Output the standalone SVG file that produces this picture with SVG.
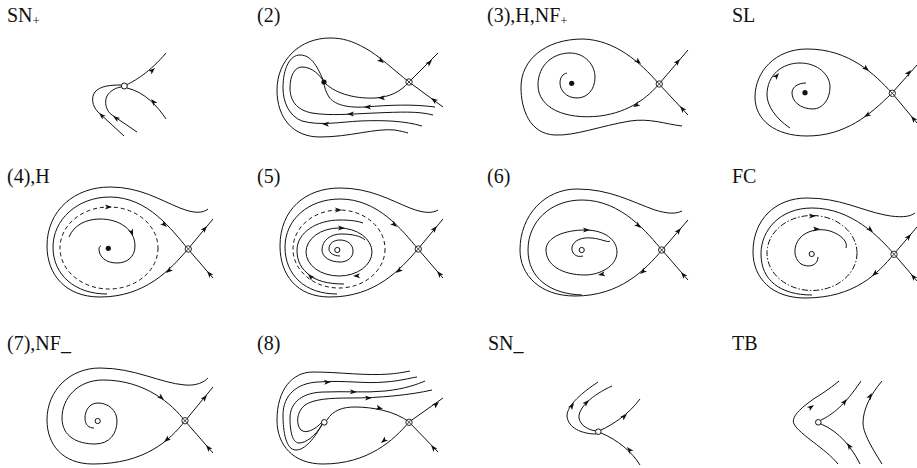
<svg xmlns="http://www.w3.org/2000/svg" xmlns:xlink="http://www.w3.org/1999/xlink" width="917" height="468" viewBox="0 0 917 468">
<style>
.c{fill:none;stroke:#111;stroke-width:1}
.d{fill:none;stroke:#111;stroke-width:1;stroke-dasharray:4,3}
.dd{fill:none;stroke:#111;stroke-width:1;stroke-dasharray:6,2,1.5,2}
.o{fill:#fff;stroke:#111;stroke-width:1}
.f{fill:#111}
text{font-family:'Liberation Serif','DejaVu Serif',serif;font-size:20px;fill:#111}
</style>
<defs>
<path id="ah" d="M0,0 L-7,-2.5 L-5.3,0 L-7,2.5 Z" fill="#111"/>
<g id="sd"><circle r="3.2" fill="#fff" stroke="#111" stroke-width="0.9"/><path d="M-2.2,-2.2 L2.2,2.2 M-2.2,2.2 L2.2,-2.2" stroke="#111" stroke-width="0.8"/></g>
</defs>
<rect width="917" height="468" fill="#fff"/>

<g id="labels">
<text x="7" y="22">SN<tspan font-size="13" dy="3">+</tspan></text>
<text x="257" y="22">(2)</text>
<text x="487" y="22">(3),H,NF<tspan font-size="13" dy="3">+</tspan></text>
<text x="732" y="22">SL</text>
<text x="7" y="183">(4),H</text>
<text x="257" y="183">(5)</text>
<text x="487" y="183">(6)</text>
<text x="732" y="183">FC</text>
<text x="7" y="350">(7),NF_</text>
<text x="257" y="350">(8)</text>
<text x="488" y="350">SN_</text>
<text x="732" y="350">TB</text>
</g>

<!-- Panel SN+ -->
<g id="p1">
<path class="c" d="M124,86 C135,81 150,72 166,53"/>
<path class="c" d="M166,119 C158,107 145,92 127,88"/>
<path class="c" d="M124,136 L98,112 C92,106 91,97 95,92 C100,86 110,85 121,85"/>
<path class="c" d="M137,132 L112,115 C106,111 104,102 107,96 C110,91 115,88 121,87"/>
<use href="#ah" transform="translate(155,68) rotate(-42)"/>
<use href="#ah" transform="translate(151,99) rotate(-131)"/>
<use href="#ah" transform="translate(99,113) rotate(-137)"/>
<use href="#ah" transform="translate(113,116) rotate(-145)"/>
<g id="p1n"><circle class="o" cx="124.3" cy="86" r="3"/></g>
</g>

<!-- Panel (2) -->
<g id="p2">
<path class="c" d="M443,107 L409,82 C395,71 378,55 365,48 C352,41 343,38 330,38 C300,38 277,60 277,90 C277,118 293,137 320,137 C350,137 375,128 395,130 C400,131 405,132 408,133"/>
<path class="c" d="M438,53 L409,82 C400,92 390,97 375,98 C352,99 333,92 324,82"/>
<path class="c" d="M435,107 C412,104 390,105 365,107 C345,108 334,104 329,97 C326,92 324,87 324,82"/>
<path class="c" d="M433,115 C418,111 400,112 375,113 C350,114 330,116 312,113 C296,110 290,100 290,88 C290,75 295,67 302,67 C312,67 320,75 324,82"/>
<path class="c" d="M422,126 C405,121 385,120 360,121 C340,122 320,126 302,121 C289,116 283,102 283,88 C283,68 290,55 300,55 C312,55 318,68 324,82"/>
<use href="#ah" transform="translate(384,63) rotate(38)"/>
<use href="#ah" transform="translate(431,98) rotate(-144)"/>
<use href="#ah" transform="translate(432,60) rotate(-45)"/>
<use href="#ah" transform="translate(378,98) rotate(178)"/>
<use href="#ah" transform="translate(364,107) rotate(180)"/>
<use href="#ah" transform="translate(347,114) rotate(180)"/>
<use href="#ah" transform="translate(322,124) rotate(183)"/>
<g id="p2n"><circle class="f" cx="324" cy="82" r="2.6"/></g>
<use href="#sd" x="409" y="82"/>
</g>

<!-- Panel (3) -->
<g id="p3">
<path class="c" d="M682,126 C665,124 650,118 630,121 C600,126 575,136 555,135 C530,134 521,110 521,87 C521,60 545,39 583,39 C615,40 640,62 659,84 L688,115"/>
<path class="c" d="M688,50 L659,84 C648,97 630,112 600,116 C565,120 538,108 538,85 C538,65 553,53 570,53 C585,53 595,65 595,77 C595,90 587,98 577,98 C566,98 560,90 560,83 C560,77 563,74 567,73"/>
<use href="#ah" transform="translate(641,64) rotate(42)"/>
<use href="#ah" transform="translate(633,107) rotate(150)"/>
<use href="#ah" transform="translate(680,59) rotate(-50)"/>
<use href="#ah" transform="translate(680,106) rotate(-130)"/>
<g id="p3n"><circle class="f" cx="571.7" cy="83.3" r="2.6"/></g>
<use href="#sd" x="659.3" y="84"/>
</g>

<!-- Panel SL -->
<g id="p4">
<path class="c" d="M892,93 C875,75 850,49 807,49 C775,49 755,72 755,97 C755,120 775,136 807,136 C845,136 870,115 892,93"/>
<path class="c" d="M917,65 L892,93 L917,123"/>
<path class="c" d="M790,128 C775,118 767,105 767,95 C767,75 782,63 800,63 C818,63 830,75 830,87 C830,100 822,109 813,109 C800,109 792,101 792,93 C792,87 798,83 806,83"/>
<use href="#ah" transform="translate(869,71) rotate(40)"/>
<use href="#ah" transform="translate(864,117) rotate(148)"/>
<use href="#ah" transform="translate(911,70) rotate(-50)"/>
<use href="#ah" transform="translate(911,116) rotate(-130)"/>
<use href="#ah" transform="translate(779,73) rotate(-50)"/>
<g id="p4n"><circle class="f" cx="805" cy="92.7" r="2.6"/></g>
<use href="#sd" x="892.3" y="93.3"/>
</g>

<!-- Panel (4),H -->
<g id="p5">
<path class="c" d="M213,219 L188,249 L213,278"/>
<path class="c" d="M188,249 C170,270 145,297 100,297 C65,297 47,274 47,246 C47,210 75,187 110,187 C140,187 160,200 180,208 C195,214 203,213 208,209"/>
<path class="c" d="M188,249 C172,230 148,197 110,197 C77,197 53,220 53,247 C53,275 75,294 107,294"/>
<ellipse class="d" cx="109" cy="248" rx="49" ry="41"/>
<path class="c" d="M69,237 C74,225 86,219 100,219 C120,219 135,230 135,246 C135,257 127,263 117,263 C106,263 99,257 99,249 C99,247 100,246 101,246"/>
<use href="#ah" transform="translate(166,273) rotate(140)"/>
<use href="#ah" transform="translate(167,227) rotate(42)"/>
<use href="#ah" transform="translate(207,226) rotate(-50)"/>
<use href="#ah" transform="translate(207,271) rotate(-130)"/>
<use href="#ah" transform="translate(112,207) rotate(0)"/>
<use href="#ah" transform="translate(133,236) rotate(70)"/>
<g id="p5n"><circle class="f" cx="108.3" cy="248.3" r="2.6"/></g>
<use href="#sd" x="188.3" y="249"/>
</g>

<!-- Panel (5) -->
<g id="p6">
<path class="c" d="M443,219 L418,249 L443,278"/>
<path class="c" d="M418,249 C400,270 375,297 330,297 C296,297 280,274 280,246 C280,210 305,188 340,188 C370,188 390,200 410,208 C425,214 433,213 438,210"/>
<path class="c" d="M418,249 C402,230 378,199 340,199 C308,199 285,220 285,247 C285,275 305,294 337,294"/>
<ellipse class="d" cx="339" cy="249" rx="46" ry="39"/>
<ellipse class="c" cx="339" cy="252" rx="33" ry="24"/>
<path class="c" d="M340,256 C334,256 329,253 329,249 C329,243 334,240 340,240 C348,240 353,245 353,251 C353,258 347,262 340,262 C330,262 322,257 322,250 C322,240 331,234 341,234 C352,234 361,236 365,240"/>
<path class="c" d="M344,284 C328,284 315,281 307,273 C299,266 297,258 297,250 C297,233 316,220 340,220 C350,220 358,221 363,223"/>
<use href="#ah" transform="translate(396,273) rotate(140)"/>
<use href="#ah" transform="translate(397,227) rotate(42)"/>
<use href="#ah" transform="translate(437,226) rotate(-50)"/>
<use href="#ah" transform="translate(437,271) rotate(-130)"/>
<use href="#ah" transform="translate(342,210) rotate(0)"/>
<use href="#ah" transform="translate(345,228) rotate(0)"/>
<use href="#ah" transform="translate(353,276) rotate(177)"/>
<use href="#ah" transform="translate(308,274) rotate(-135)"/>
<g id="p6n"><circle class="o" cx="337.3" cy="250" r="2.6"/></g>
<use href="#sd" x="418.3" y="249"/>
</g>

<!-- Panel (6) -->
<g id="p7">
<path class="c" d="M688,220 L662,250 L688,280"/>
<path class="c" d="M662,250 C645,270 620,296 575,296 C540,296 520,275 520,250 C520,215 545,189 577,189 C610,189 632,202 655,210 C668,214 676,214 682,211"/>
<path class="c" d="M662,250 C648,234 622,200 582,200 C550,200 528,222 528,250 C528,278 550,294 582,295"/>
<path class="c" d="M546,250 C546,237 565,230 585,230 C605,230 617,240 617,252 C617,266 600,275 585,275 C562,275 546,265 546,250"/>
<path class="c" d="M583,256 C576,258 571,253 572,247 C574,240 582,237 592,238 C602,239 608,243 610,241"/>
<use href="#ah" transform="translate(640,274) rotate(140)"/>
<use href="#ah" transform="translate(641,228) rotate(42)"/>
<use href="#ah" transform="translate(681,228) rotate(-50)"/>
<use href="#ah" transform="translate(681,272) rotate(-130)"/>
<use href="#ah" transform="translate(590,230) rotate(0)"/>
<use href="#ah" transform="translate(598,275) rotate(170)"/>
<g id="p7n"><circle class="o" cx="581.7" cy="250" r="2.6"/></g>
<use href="#sd" x="661.7" y="250"/>
</g>

<!-- Panel FC -->
<g id="p8">
<path class="c" d="M917,227 L894,254 L917,281"/>
<path class="c" d="M894,254 C878,273 855,298 805,298 C772,298 753,278 753,252 C753,220 775,198 807,198 C840,198 860,210 885,215 C900,218 910,217 915,213"/>
<path class="c" d="M894,254 C880,238 852,208 812,208 C780,208 761,230 761,254 C761,280 780,295 812,295"/>
<ellipse class="dd" cx="812" cy="253" rx="45" ry="37.5"/>
<path class="c" d="M818,257 C818,266 808,268 801,264 C793,258 793,246 800,238 C807,230 820,228 830,231 C842,235 848,242 846,248"/>
<use href="#ah" transform="translate(872,276) rotate(140)"/>
<use href="#ah" transform="translate(873,232) rotate(42)"/>
<use href="#ah" transform="translate(911,234) rotate(-50)"/>
<use href="#ah" transform="translate(911,274) rotate(-130)"/>
<use href="#ah" transform="translate(816,216) rotate(0)"/>
<use href="#ah" transform="translate(820,229) rotate(0)"/>
<g id="p8n"><circle class="o" cx="811.7" cy="254" r="2.6"/></g>
<use href="#sd" x="894" y="254.3"/>
</g>

<!-- Panel (7),NF_ -->
<g id="p9">
<path class="c" d="M213,387 L185,421 L213,453"/>
<path class="c" d="M185,421 C170,440 145,464 93,464 C62,464 47,444 47,420 C47,390 70,368 100,368 C135,368 160,383 185,385 C197,386 204,382 208,378"/>
<path class="c" d="M185,421 C172,404 145,380 103,380 C78,380 62,398 62,418 C62,437 78,444 95,444 C110,444 117,433 117,421 C117,410 108,403 98,403 C89,403 85,411 85,418 C85,425 89,428 94,428"/>
<use href="#ah" transform="translate(164,442) rotate(140)"/>
<use href="#ah" transform="translate(164,400) rotate(42)"/>
<use href="#ah" transform="translate(207,395) rotate(-50)"/>
<use href="#ah" transform="translate(206,445) rotate(-130)"/>
<g id="p9n"><circle class="o" cx="97.7" cy="421" r="2.6"/></g>
<use href="#sd" x="185" y="420.7"/>
</g>

<!-- Panel (8) -->
<g id="p10">
<path class="c" d="M443,398 L409,422 L438,452"/>
<path class="c" d="M327,420 C333,410 343,407 355,407 C372,407 395,411 409,422"/>
<path class="c" d="M409,422 C394,440 368,464 323,464 C293,464 277,445 277,420 C277,390 292,372 313,372 C340,372 365,376 390,374 C400,373 405,372 410,371"/>
<path class="c" d="M322,424 C315,438 305,450 296,450 C286,450 283,432 283,415 C283,395 297,383 318,382 C345,380 365,384 385,382 C400,381 410,378 417,377"/>
<path class="c" d="M322,425 C315,436 306,443 299,443 C292,443 290,430 290,418 C290,402 303,392 325,392 C345,391 365,393 385,391 C405,389 418,384 425,381"/>
<path class="c" d="M322,422 C315,430 306,434 301,430 C296,425 296,412 305,405 C314,399 330,398 350,398 C380,398 410,395 432,390"/>
<use href="#ah" transform="translate(383,409) rotate(15)"/>
<use href="#ah" transform="translate(381,443) rotate(140)"/>
<use href="#ah" transform="translate(439,402) rotate(-40)"/>
<use href="#ah" transform="translate(431,445) rotate(-130)"/>
<use href="#ah" transform="translate(331,382) rotate(-2)"/>
<use href="#ah" transform="translate(357,392) rotate(2)"/>
<use href="#ah" transform="translate(372,398) rotate(0)"/>
<g id="p10n"><circle class="o" cx="324.3" cy="422.3" r="2.8"/></g>
<use href="#sd" x="409" y="422.3"/>
</g>

<!-- Panel SN_ -->
<g id="p11">
<path class="c" d="M601,430 C612,425 628,415 640,399"/>
<path class="c" d="M640,465 C632,452 618,440 601,433"/>
<path class="c" d="M596,431 C588,430 580,425 579,418 C578,408 592,395 612,386"/>
<path class="c" d="M596,434 C582,434 568,428 567,416 C567,405 583,392 598,382"/>
<use href="#ah" transform="translate(627,414) rotate(-42)"/>
<use href="#ah" transform="translate(627,447) rotate(-130)"/>
<use href="#ah" transform="translate(589,400) rotate(-45)"/>
<use href="#ah" transform="translate(574,403) rotate(-55)"/>
<g id="p11n"><circle class="o" cx="598.3" cy="431.7" r="2.8"/></g>
</g>

<!-- Panel TB -->
<g id="p12">
<path class="c" d="M821,420 C832,415 845,405 861,381"/>
<path class="c" d="M860,464 C852,448 840,432 821,424"/>
<path class="c" d="M838,464 C825,448 800,435 794,424 C790,416 805,405 815,398 C825,392 833,386 839,381"/>
<path class="c" d="M882,464 C870,445 863,432 863,423 C863,410 870,395 882,381"/>
<use href="#ah" transform="translate(847,399) rotate(-50)"/>
<use href="#ah" transform="translate(847,443) rotate(-125)"/>
<use href="#ah" transform="translate(814,405) rotate(-35)"/>
<use href="#ah" transform="translate(872,393) rotate(-60)"/>
<g id="p12n"><circle class="o" cx="818.3" cy="422.3" r="2.8"/></g>
</g>
</svg>
